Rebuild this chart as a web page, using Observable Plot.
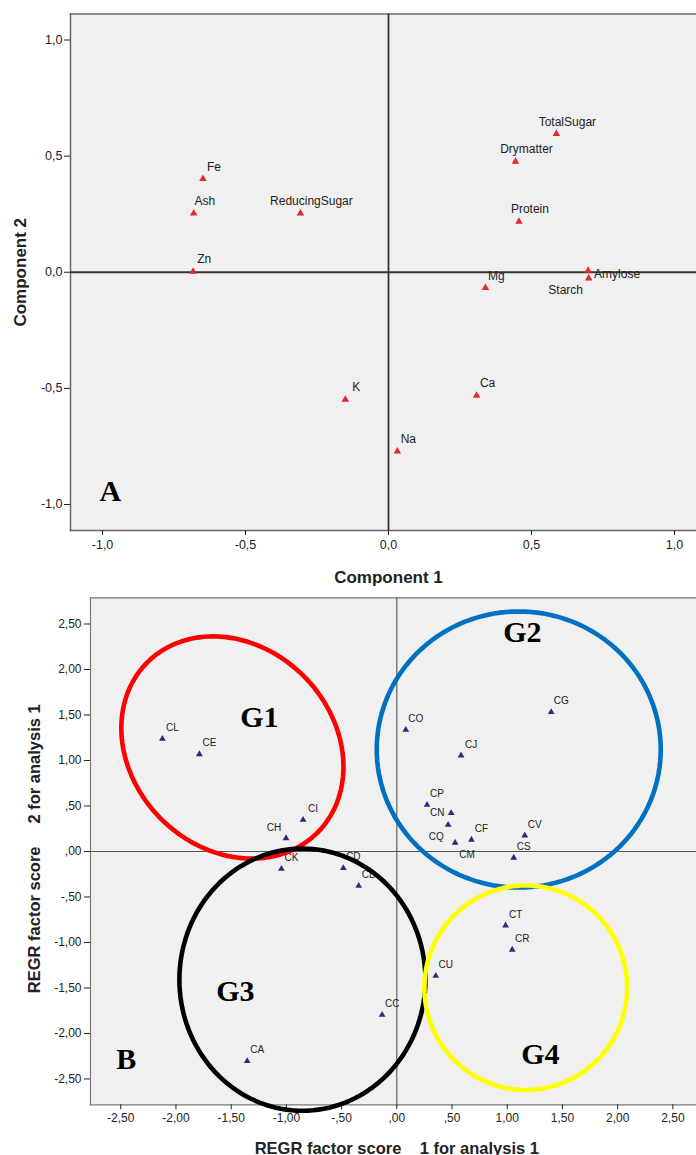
<!DOCTYPE html>
<html><head><meta charset="utf-8">
<script src="https://cdn.jsdelivr.net/npm/d3@7"></script>
<script src="https://cdn.jsdelivr.net/npm/@observablehq/plot@0.6"></script>
<style>
body{margin:0;background:#fff;}
#chart svg{display:block;}
</style></head><body><div id="chart"></div>
<script>
// ---------- Panel A: component loadings ----------
const variables = ["Fe","Ash","ReducingSugar","Zn","TotalSugar","Drymatter","Protein","Mg","Amylose","Starch","K","Ca","Na"];
const comp1 = [-0.649,-0.681,-0.308,-0.683,0.587,0.444,0.456,0.339,0.698,0.700,-0.151,0.308,0.031];
const comp2 = [0.402,0.254,0.254,0.003,0.596,0.477,0.218,-0.067,0.007,-0.026,-0.548,-0.531,-0.771];
const varLabelSide = ["above","above","above","above","above","above","above","above","right","below-left","above","above","above"];
const ticksA = [-1.0,-0.5,0.0,0.5,1.0];

// ---------- Panel B: factor scores ----------
const samples = ["CL","CE","CI","CH","CK","CD","CB","CO","CG","CJ","CP","CN","CQ","CM","CF","CV","CS","CT","CR","CU","CC","CA"];
const score1 = [-2.123,-1.788,-0.849,-1.003,-1.045,-0.484,-0.345,0.081,1.398,0.582,0.274,0.492,0.465,0.528,0.676,1.159,1.059,0.985,1.045,0.353,-0.133,-1.355];
const score2 = [1.238,1.069,0.348,0.146,-0.190,-0.183,-0.377,1.337,1.531,1.055,0.513,0.421,0.293,0.096,0.129,0.176,-0.069,-0.813,-1.080,-1.366,-1.795,-2.304];
const sampleLabelSide = ["above","above","above","above-left","above","above","above","above","above","above","above","left","below-left","below-right","above","above","above","above","above","above","above","above"];
const ticksB = [-2.5,-2.0,-1.5,-1.0,-0.5,0.0,0.5,1.0,1.5,2.0,2.5];

// group ellipses (data units; radii in x-units, tilt in degrees)
const groupNames = ["G1","G2","G3","G4"];
const groupCx = [-1.489,1.104,-0.855,1.168];
const groupCy = [1.143,1.121,-1.409,-1.497];
const groupRa = [1.090,1.286,1.114,0.918];
const groupRb = [0.914,1.250,1.187,0.926];
const groupTilt = [-45,0,0,0];
const groupColors = ["#ff0000","#0070c0","#000000","#ffff00"];
const groupLabelX = [-1.245,1.137,-1.462,1.300];
const groupLabelY = [1.476,2.410,-1.536,-2.225];

const W = 696;
const sans = "'Liberation Sans', Arial, sans-serif";
const serif = "'Liberation Serif', 'Times New Roman', serif";
const fmtA = d => d.toFixed(1).replace(".", ",");
const fmtB = d => { let s = Math.abs(d).toFixed(2).replace(".", ","); if (s.startsWith("0")) s = s.slice(1); return (d < 0 ? "-" : "") + s; };

const dataA = variables.map((v,i) => ({name:v, x:comp1[i], y:comp2[i], side:varLabelSide[i]}));
const dataB = samples.map((v,i) => ({name:v, x:score1[i], y:score2[i], side:sampleLabelSide[i]}));

function labelMarks(data, offsets, opts) {
  return Object.entries(offsets).map(([side, [dx, dy, anchor]]) =>
    Plot.text(data.filter(d => d.side === side), {x:"x", y:"y", text:"name", dx, dy, textAnchor:anchor, ...opts}));
}

function frameRules(stroke, sw) {
  return [
    Plot.frame({anchor:"left", stroke, strokeWidth:sw}),
    Plot.frame({anchor:"top", stroke, strokeWidth:sw}),
    Plot.frame({anchor:"bottom", stroke, strokeWidth:sw})
  ];
}

// ---- Plot A ----
const mA = {top:13.5, left:70, right:0, bottom:60};
const plotA = Plot.plot({
  width:W, height:590, marginTop:mA.top, marginLeft:mA.left, marginRight:mA.right, marginBottom:mA.bottom,
  x:{domain:[-1.112,1.077]},
  y:{domain:[-1.112,1.112]},
  style:{fontFamily:sans, color:"#222", background:"#fff"},
  marks:[
    Plot.frame({fill:"#f0f0f0", stroke:null}),
    ...frameRules("#666", 1.5),
    Plot.ruleY([0], {stroke:"#333", strokeWidth:1.8}),
    Plot.ruleX([0], {stroke:"#333", strokeWidth:1.8}),
    Plot.axisX({ticks:ticksA, tickFormat:fmtA, tickSize:5, tickPadding:5, fontSize:12.5, label:null}),
    Plot.axisY({ticks:ticksA, tickFormat:fmtA, tickSize:6, tickPadding:2, fontSize:12.5, label:null}),
    Plot.dot(dataA, {x:"x", y:"y", symbol:"triangle", r:2.8, fill:"#e8262d", stroke:null}),
    ...labelMarks(dataA, {"above":[11,-12,"middle"], "right":[6,4,"start"], "below-left":[-23,12,"middle"]}, {fontSize:12, fill:"#222"}),
    Plot.text(["Component 1"], {x:0, frameAnchor:"bottom", dy:47, lineAnchor:"middle", textAnchor:"middle", fontSize:17, fontWeight:"bold", fill:"#222"}),
    Plot.text(["Component 2"], {y:0, frameAnchor:"left", dx:-49.5, rotate:-90, lineAnchor:"middle", textAnchor:"middle", fontSize:17, fontWeight:"bold", fill:"#222"}),
    Plot.text(["A"], {x:-0.973, y:-0.944, fontFamily:serif, fontWeight:"bold", fontSize:30, fill:"#000", lineAnchor:"middle", textAnchor:"middle"})
  ]
});

// ---- Plot B ----
const mB = {top:7.3, left:90, right:0, bottom:50.7};
const HB = 565;
const xDomB = [-2.774,2.714], yDomB = [-2.784,2.788];
const kx = (W - mB.left - mB.right) / (xDomB[1] - xDomB[0]);
const ky = (HB - mB.top - mB.bottom) / (yDomB[1] - yDomB[0]);
const s = kx / ky;
function ellipse(i) {
  const pts = [], ph = groupTilt[i] * Math.PI / 180;
  for (let k = 0; k <= 144; k++) {
    const t = 2 * Math.PI * k / 144, c = Math.cos(t), sn = Math.sin(t);
    const ux = groupRa[i]*c*Math.cos(ph) - groupRb[i]*sn*Math.sin(ph);
    const uy = groupRa[i]*c*Math.sin(ph) + groupRb[i]*sn*Math.cos(ph);
    pts.push({x: groupCx[i] + ux, y: groupCy[i] + uy * s});
  }
  return pts;
}
const plotB = Plot.plot({
  width:W, height:HB, marginTop:mB.top, marginLeft:mB.left, marginRight:mB.right, marginBottom:mB.bottom,
  x:{domain:xDomB},
  y:{domain:yDomB},
  style:{fontFamily:sans, color:"#222", background:"#fff", overflow:"visible"},
  marks:[
    Plot.frame({fill:"#f0f0f0", stroke:null}),
    ...frameRules("#777", 1.2),
    Plot.ruleY([0], {stroke:"#555", strokeWidth:1.1}),
    Plot.ruleX([0], {stroke:"#555", strokeWidth:1.1}),
    Plot.axisX({ticks:ticksB, tickFormat:fmtB, tickSize:5, tickPadding:4, fontSize:12, label:null}),
    Plot.axisY({ticks:ticksB, tickFormat:fmtB, tickSize:6, tickPadding:3, fontSize:12, label:null}),
    Plot.dot(dataB, {x:"x", y:"y", symbol:"triangle", r:2.5, fill:"#2b2b80", stroke:null}),
    ...labelMarks(dataB, {"above":[10,-11,"middle"], "above-left":[-12,-10,"middle"], "left":[-14,0,"middle"], "below-left":[-12,12,"middle"], "below-right":[12,12,"middle"]}, {fontSize:10, fill:"#222"}),
    ...groupNames.map((g,i) => Plot.line(ellipse(i), {x:"x", y:"y", stroke:groupColors[i], strokeWidth:4.6, curve:"linear-closed"})),
    Plot.text(groupNames.map((g,i) => ({g, x:groupLabelX[i], y:groupLabelY[i]})), {x:"x", y:"y", text:"g", fontFamily:serif, fontWeight:"bold", fontSize:30, fill:"#000", lineAnchor:"middle", textAnchor:"middle"}),
    Plot.text(["B"], {x:-2.450, y:-2.286, fontFamily:serif, fontWeight:"bold", fontSize:30, fill:"#000", lineAnchor:"middle", textAnchor:"middle"}),
    Plot.text(["REGR factor score\u00a0\u00a0\u00a0 1 for analysis 1"], {x:0, frameAnchor:"bottom", dy:44, lineAnchor:"middle", textAnchor:"middle", fontSize:16.5, fontWeight:"bold", fill:"#222"}),
    Plot.text(["REGR factor score\u00a0\u00a0\u00a0\u00a0 2 for analysis 1"], {y:0.03, frameAnchor:"left", dx:-55.5, rotate:-90, lineAnchor:"middle", textAnchor:"middle", fontSize:16.5, fontWeight:"bold", fill:"#222"})
  ]
});

document.getElementById("chart").append(plotA, plotB);
</script></body></html>
